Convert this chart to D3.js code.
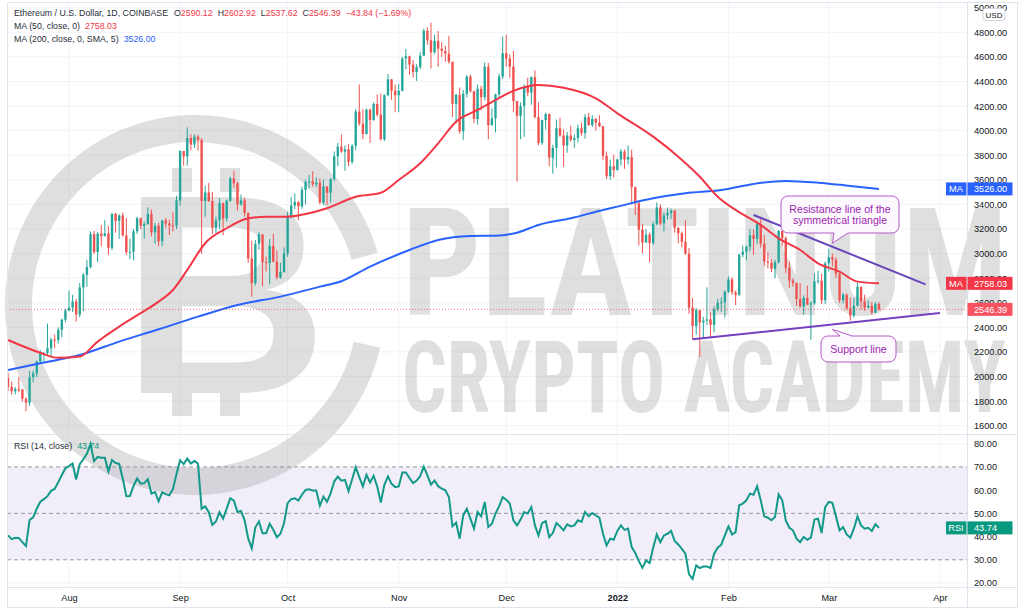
<!DOCTYPE html>
<html>
<head>
<meta charset="utf-8">
<script src="https://cdn.jsdelivr.net/npm/d3@7"></script>
<style>
  body { margin: 0; background: #fff; }
  svg { display: block; }
</style>
</head>
<body>
<svg id="chart" width="1024" height="610"></svg>
<script>
// ETH/USD daily candles, 2021-07-15 .. 2022-03-15 (open = previous close)
const startDay = "2021-07-15"
const firstOpen = 1990

const closes = [
  1916,1880,1897,1895,1820,1787,1994,2026,2123,2188,2190,2230,2300,2298,2380,2462,2536,
  2561,2610,2505,2725,2827,2890,3158,3013,3163,3142,3164,3047,3322,3266,3310,3147,3011,3015,3181,3287,3225,3240,3322,3173,3226,3100,3270,3245,3228,3227,3433,
  3834,3790,3940,3887,3951,3924,3428,3497,3427,3211,3270,3410,3285,3430,3611,3572,3400,3433,3330,2960,2760,3080,3155,2930,2925,3063,2934,2805,2850,3001,
  3308,3391,3420,3384,3518,3582,3587,3563,3577,3415,3545,3495,3605,3792,3869,3830,3848,3746,3877,4155,4057,3972,4170,4086,4217,4130,3930,4288,4417,4325,4288,
  4324,4587,4605,4537,4477,4518,4610,4812,4735,4637,4730,4667,4648,4626,4560,4218,4290,3995,4300,4440,4320,4095,4340,4273,4520,4045,4100,4295,4440,4630,
  4587,4520,4240,4120,4200,4355,4310,4435,4110,3900,4085,4135,3780,3860,4020,3960,3880,3960,3925,3940,4020,3980,4110,4045,4095,4065,4035,3795,3630,3710,3680,
  3765,3830,3765,3785,3540,3410,3195,3090,3155,3085,3240,3375,3245,3310,3330,3350,3210,3165,3095,3000,2560,2410,2540,2440,2455,2465,2420,2548,2600,2605,2690,
  2790,2685,2665,2990,3015,3055,3150,3120,3240,3080,2935,2925,2875,2930,3185,3125,2885,2780,2760,2630,2570,2640,2585,2595,2775,2780,2620,2920,
  2970,2950,2835,2620,2665,2555,2495,2575,2730,2610,2560,2575,2520,2590.23,2546.39
]
const highs = [
  2032,1960,1915,1995,1897,1830,2045,2050,2130,2215,2200,2430,2315,2342,2400,2470,2550,
  2700,2665,2630,2760,2840,2950,3180,3185,3175,3230,3275,3225,3330,3330,3320,3335,3290,3120,3200,3300,3295,3260,3375,3360,3250,3250,3275,3290,3275,3335,3470,
  3840,3835,4027,3970,3970,3965,3940,3550,3575,3500,3300,3450,3415,3440,3625,3675,3585,3480,3455,3335,3105,3110,3175,3160,2975,3120,3160,3025,2925,3050,
  3340,3460,3490,3425,3545,3600,3640,3670,3620,3610,3600,3550,3615,3830,3900,3970,3880,3890,3890,4175,4375,4175,4180,4180,4230,4295,4300,4295,4460,4420,4375,
  4380,4600,4665,4610,4575,4540,4640,4830,4840,4878,4780,4810,4720,4690,4770,4560,4300,4350,4330,4450,4455,4325,4375,4365,4555,4550,4180,4300,4465,4765,
  4780,4620,4650,4240,4230,4375,4430,4440,4490,4230,4090,4145,4140,3885,4090,4105,4010,3990,4040,3970,4050,4065,4135,4145,4125,4105,4125,4040,3830,3765,3805,
  3770,3850,3845,3880,3845,3545,3420,3240,3200,3170,3260,3415,3400,3335,3375,3365,3355,3215,3180,3270,3045,2640,2555,2540,2485,2725,2520,2570,2630,2645,2700,
  2815,2810,2700,3000,3065,3065,3200,3195,3260,3280,3150,3010,2955,2950,3190,3175,3140,2935,2800,2765,2760,2660,2740,2610,2840,2860,2835,2935,
  3040,3000,2970,2850,2680,2675,2640,2640,2760,2730,2665,2620,2605,2605,2602.92
]
const lows = [
  1883,1853,1853,1873,1796,1718,1760,1953,1995,2112,2115,2175,2155,2230,2270,2320,2440,
  2530,2525,2445,2483,2530,2730,2880,2995,2930,3060,3140,2990,3030,3170,3120,3140,2990,2955,2945,3160,3200,3120,3235,3140,3080,3060,3060,3210,3150,3180,3200,
  3390,3715,3715,3840,3860,3840,3000,3300,3420,3160,3170,3200,3150,3260,3420,3535,3350,3390,3300,2925,2650,2740,3030,2735,2855,2750,2930,2790,2795,2845,
  2975,3285,3360,3270,3365,3400,3530,3545,3540,3400,3395,3395,3415,3590,3710,3820,3675,3710,3730,3840,4040,3930,3970,3900,4080,4115,3920,3915,4280,4250,4150,
  4150,4320,4500,4455,4430,4405,4500,4610,4700,4505,4625,4520,4600,4560,4545,4110,4060,3975,3925,4270,4310,4060,4050,4165,4245,3930,4040,3985,4270,4420,
  4520,4430,4150,3585,3930,3950,4280,4210,4100,3880,3885,4010,3710,3650,3700,3950,3705,3820,3910,3860,3905,3960,3935,4040,4030,4000,4030,3760,3605,3600,3620,
  3675,3715,3690,3725,3400,3315,3065,3000,3090,2930,3070,3230,3230,3180,3275,3280,3170,3085,3050,2990,2510,2300,2340,2159,2310,2420,2310,2360,2530,2525,2480,
  2680,2665,2580,2655,2970,2945,3020,2990,3080,3050,2900,2880,2850,2800,2920,3060,2840,2720,2730,2575,2560,2500,2580,2300,2585,2755,2590,2590,
  2855,2895,2800,2600,2595,2545,2455,2480,2570,2545,2535,2555,2505,2515,2537.62
]
// RSI (14, close), one value per candle
const rsi = [
  40.5,38.9,39.5,39.4,37.6,35.9,47.1,48.3,52,55,56.1,57.4,59.7,60.5,63.4,66.5,69.4,
  70.4,71.5,64.6,71.2,73.3,75.6,79.8,72.5,74.3,74,74,68,73,71.7,71.3,65,57.4,57.5,61.8,65,62.8,63,64.7,58.5,59.2,55.2,59,58.3,57.8,60.5,67,
  72.9,71.2,73.6,71.4,72.6,71.4,52,53,50.5,45,46.5,50.5,47.7,52,56.5,55.5,50.6,51,47,39.2,34.9,44,46.5,41.4,41.4,45.5,42.9,39.7,41.2,45.8,
  54.4,56.1,56.5,55.5,58,60.1,60.4,59.8,59.8,53.3,57.2,55,58.6,63.7,65.8,64.1,64.4,59.6,64.7,69.9,65.6,61.6,66.6,63.3,66.2,61.6,54.7,62.3,65.9,62.7,61.3,
  61.6,67.6,67.6,65.2,63,64.1,66.1,70.1,66.4,62.4,64.2,61.7,60.6,59.9,57,44.4,46,39.1,49.1,52,47.7,43.4,50.6,48.7,54.9,44.1,45.5,49.9,53,57,
  55.9,54.2,47,44.8,47.3,50.6,49.9,52.7,44.8,40.5,45.8,46.7,39.8,41.5,45.8,44.4,42.7,45.3,44.4,44.8,47,46.3,50.6,48.7,50.1,49.1,48.1,41.2,36.2,39.1,38.6,
  42.4,44.8,42.9,43.4,35.5,32.9,29.4,26.5,29.7,28.6,35.2,40.9,37.6,40.5,41.2,42.4,38.1,36.6,34.7,32.6,23.7,21.8,27.6,26.4,27.1,27.1,26.5,32.6,35.2,36.5,40.5,
  44.4,40.9,41.9,53.5,54.2,55.6,58.5,58,61.7,55.6,48.7,48.1,47,48.4,58.2,55.6,47,43.8,42.7,39.1,37.6,39.8,38.6,39.5,47.3,47.7,41.5,52.7,
  54.9,54.5,48.7,42.7,44.1,40.9,39.5,43.4,48.7,44.8,43.4,43.8,42.4,45.3,43.74
]

// moving averages
const ma50Dates = ["2021-07-15","2021-07-24","2021-07-29","2021-08-04","2021-08-09","2021-08-15","2021-08-21","2021-08-26","2021-08-30","2021-09-03","2021-09-08","2021-09-14","2021-09-20","2021-09-25","2021-10-01","2021-10-06","2021-10-12","2021-10-20","2021-10-27","2021-11-01","2021-11-07","2021-11-12","2021-11-17","2021-11-23","2021-11-28","2021-12-03","2021-12-10","2021-12-17","2021-12-26","2022-01-01","2022-01-11","2022-01-18","2022-01-24","2022-01-29","2022-02-03","2022-02-10","2022-02-15","2022-02-21","2022-02-26","2022-03-04","2022-03-09","2022-03-15"]
const ma50Values = [2297,2193,2152,2162,2284,2406,2515,2609,2704,2867,3084,3206,3287,3300,3300,3322,3369,3463,3495,3599,3735,3897,4073,4168,4249,4323,4371,4349,4263,4141,3951,3788,3625,3463,3355,3233,3124,3029,2921,2853,2772,2758.03]
const ma200Dates = ["2021-07-15","2021-07-24","2021-08-04","2021-08-15","2021-08-26","2021-09-06","2021-09-17","2021-09-29","2021-10-10","2021-10-16","2021-10-24","2021-11-04","2021-11-12","2021-11-21","2021-11-28","2021-12-04","2021-12-10","2021-12-19","2021-12-28","2022-01-01","2022-01-11","2022-01-20","2022-01-30","2022-02-08","2022-02-17","2022-02-26","2022-03-07","2022-03-15"]
const ma200Values = [2053,2108,2175,2284,2384,2487,2582,2650,2731,2775,2894,3029,3111,3143,3146,3170,3233,3287,3355,3382,3450,3491,3517,3566,3591,3577,3550,3526]

// drawn trend lines (date, price)
const resistanceDates = ["2022-02-08","2022-03-28"]
const resistancePrices = [3314, 2750]
const supportDates = ["2022-01-22","2022-04-01"]
const supportPrices = [2303, 2517]

const priceTicks = d3.range(1600, 5001, 200)
const rsiTicks = [20, 30, 40, 50, 60, 70, 80]
const rsiGrid = [20, 40, 60, 80]
const rsiLevels = [70, 50, 30]

const FONT = '"Liberation Sans", Arial, sans-serif'
const UP = "#26a69a", DOWN = "#ef5350"
const L = 7, R = 967, FR = 1017
const mainTop = 2, mainBottom = 434, rsiBottom = 587, bottom = 607

const parse = d3.utcParse("%Y-%m-%d")
const day0 = parse(startDay)
const candles = closes.map((c, i) => ({
  date: d3.utcDay.offset(day0, i),
  open: i ? closes[i - 1] : firstOpen,
  high: highs[i], low: lows[i], close: c, rsi: rsi[i]
}))

const x = d3.scaleUtc().domain([day0, parse("2022-04-01")]).range([8.07, 939.9])
const y = d3.scaleLinear().domain([1600, 5000]).range([425.7, 7.7])
const yr = d3.scaleLinear().domain([20, 80]).range([583, 443.7])

const svg = d3.select("#chart").attr("font-family", FONT)
const defs = svg.append("defs")
defs.append("clipPath").attr("id", "clipMain").append("rect")
  .attr("x", L).attr("y", mainTop).attr("width", R - L).attr("height", mainBottom - mainTop)
defs.append("clipPath").attr("id", "clipRsi").append("rect")
  .attr("x", L).attr("y", mainBottom).attr("width", R - L).attr("height", rsiBottom - mainBottom)

svg.append("rect").attr("width", 1024).attr("height", 610).attr("fill", "#fff")

// RSI band
svg.append("rect").attr("x", L).attr("width", R - L)
  .attr("y", yr(70)).attr("height", yr(30) - yr(70)).attr("fill", "rgba(126,87,194,0.1)")

// grid
const grid = svg.append("g").attr("stroke", "#f0f3fa").attr("stroke-width", 1)
grid.selectAll(".gy").data(priceTicks).join("line").attr("class", "gy")
  .attr("x1", L).attr("x2", R).attr("y1", d => y(d)).attr("y2", d => y(d))
grid.selectAll(".gr").data(rsiGrid).join("line").attr("class", "gr")
  .attr("x1", L).attr("x2", R).attr("y1", d => yr(d)).attr("y2", d => yr(d))
grid.selectAll(".gx").data(x.ticks(d3.utcMonth.every(1))).join("line").attr("class", "gx")
  .attr("x1", d => x(d)).attr("x2", d => x(d)).attr("y1", mainTop).attr("y2", rsiBottom)

svg.append("g").selectAll("line").data(rsiLevels).join("line")
  .attr("x1", L).attr("x2", R).attr("y1", d => yr(d)).attr("y2", d => yr(d))
  .attr("stroke", "#9598a1").attr("stroke-dasharray", "4,3")

// watermark
const wm = svg.append("g").attr("fill", "#8c8c8c").attr("opacity", 0.27)
const deg = Math.PI / 180
wm.append("path").attr("transform", "translate(195,305)")
  .attr("d", d3.arc()({ innerRadius: 163, outerRadius: 190,
    startAngle: Math.PI / 2 + 13 * deg, endAngle: Math.PI / 2 - 16 * deg + 2 * Math.PI }))
wm.append("text").attr("x", 122).attr("y", 393)
  .attr("font-family", FONT).attr("font-weight", "bold").attr("font-size", 285).text("B")
wm.selectAll(".stub").data([[172, 168], [220, 168], [172, 392], [220, 392]]).join("rect").attr("class", "stub")
  .attr("x", d => d[0]).attr("y", d => d[1]).attr("width", 20).attr("height", 24)
wm.append("text").attr("x", 402).attr("y", 315)
  .attr("font-family", '"Liberation Sans Narrow", "Roboto Condensed", "Liberation Sans", sans-serif')
  .attr("font-weight", "bold").attr("font-size", 150)
  .attr("textLength", 606).attr("lengthAdjust", "spacingAndGlyphs").text("PLATINUM")
wm.append("text").attr("x", 402).attr("y", 412)
  .attr("font-family", '"Liberation Sans Narrow", "Roboto Condensed", "Liberation Sans", sans-serif')
  .attr("font-weight", "bold").attr("font-size", 100)
  .attr("textLength", 604).attr("lengthAdjust", "spacingAndGlyphs").text("CRYPTO ACADEMY")

// candles
const gMain = svg.append("g").attr("clip-path", "url(#clipMain)")
const cg = gMain.selectAll(".candle").data(candles).join("g").attr("class", "candle")
cg.append("line")
  .attr("x1", d => x(d.date)).attr("x2", d => x(d.date))
  .attr("y1", d => y(d.high)).attr("y2", d => y(d.low))
  .attr("stroke", d => d.close >= d.open ? UP : DOWN).attr("stroke-width", 1)
cg.append("rect")
  .attr("x", d => x(d.date) - 1.2).attr("width", 2.4)
  .attr("y", d => y(Math.max(d.open, d.close)))
  .attr("height", d => Math.max(1, Math.abs(y(d.open) - y(d.close))))
  .attr("fill", d => d.close >= d.open ? UP : DOWN)

const maLine = d3.line().x(d => x(d[0])).y(d => y(d[1])).curve(d3.curveMonotoneX)
gMain.append("path").datum(ma200Dates.map((d, i) => [parse(d), ma200Values[i]]))
  .attr("d", maLine).attr("fill", "none").attr("stroke", "#2962ff").attr("stroke-width", 2)
gMain.append("path").datum(ma50Dates.map((d, i) => [parse(d), ma50Values[i]]))
  .attr("d", maLine).attr("fill", "none").attr("stroke", "#f23645").attr("stroke-width", 2)

const last = candles[candles.length - 1]
gMain.append("line").attr("x1", L).attr("x2", R).attr("y1", y(last.close)).attr("y2", y(last.close))
  .attr("stroke", DOWN).attr("stroke-dasharray", "1,2").attr("opacity", 0.8)

// trend lines
const tl = d3.line().x(d => x(d[0])).y(d => y(d[1]))
gMain.append("path").datum(resistanceDates.map((d, i) => [parse(d), resistancePrices[i]]))
  .attr("d", tl).attr("stroke", "#6845b8").attr("stroke-width", 2).attr("fill", "none")
gMain.append("path").datum(supportDates.map((d, i) => [parse(d), supportPrices[i]]))
  .attr("d", tl).attr("stroke", "#7440c0").attr("stroke-width", 2).attr("fill", "none")

// callouts
function calloutPath(bx, by, bw, bh, r, side, a, b, tx, ty) {
  let p = `M${bx + r},${by}`
  if (side === "top") p += `L${a},${by}L${tx},${ty}L${b},${by}`
  p += `L${bx + bw - r},${by}A${r},${r} 0 0 1 ${bx + bw},${by + r}`
  p += `L${bx + bw},${by + bh - r}A${r},${r} 0 0 1 ${bx + bw - r},${by + bh}`
  if (side === "bottom") p += `L${b},${by + bh}L${tx},${ty}L${a},${by + bh}`
  p += `L${bx + r},${by + bh}A${r},${r} 0 0 1 ${bx},${by + bh - r}`
  p += `L${bx},${by + r}A${r},${r} 0 0 1 ${bx + r},${by}Z`
  return p
}
const tipDate = parse("2022-03-02")
const callG = svg.append("g")
callG.append("path")
  .attr("d", calloutPath(781, 196, 118, 37, 7, "bottom", 834, 848, x(tipDate), y(3084)))
  .attr("fill", "#fdf8fe").attr("stroke", "#b35bc8").attr("stroke-width", 1)
callG.append("text").attr("x", 840).attr("y", 212.5).attr("text-anchor", "middle")
  .attr("font-size", 10.6).attr("fill", "#9c27b0")
  .selectAll("tspan").data(["Resistance line of the", "symmetrical triangle"]).join("tspan")
  .attr("x", 840).attr("dy", (d, i) => i ? 11.5 : 0).text(d => d)
callG.append("path")
  .attr("d", calloutPath(821, 336, 75, 26, 7, "top", 840, 852, x(tipDate), y(2384)))
  .attr("fill", "#fdf8fe").attr("stroke", "#b35bc8").attr("stroke-width", 1)
callG.append("text").attr("x", 858.5).attr("y", 352.5).attr("text-anchor", "middle")
  .attr("font-size", 10.6).attr("fill", "#9c27b0").text("Support line")

// RSI line
svg.append("g").attr("clip-path", "url(#clipRsi)").append("path").datum(candles)
  .attr("d", d3.line().x(d => x(d.date)).y(d => yr(d.rsi)))
  .attr("fill", "none").attr("stroke", "#12998a").attr("stroke-width", 2)

// frame and separators
const frame = svg.append("g").attr("stroke", "#e0e3eb").attr("fill", "none")
frame.append("rect").attr("x", L + 0.5).attr("y", mainTop + 0.5).attr("width", FR - L).attr("height", bottom - mainTop)
frame.append("line").attr("x1", L).attr("x2", FR).attr("y1", mainBottom + 0.5).attr("y2", mainBottom + 0.5)
frame.append("line").attr("x1", L).attr("x2", FR).attr("y1", rsiBottom + 0.5).attr("y2", rsiBottom + 0.5)
frame.append("line").attr("x1", R + 0.5).attr("x2", R + 0.5).attr("y1", mainTop).attr("y2", bottom)

// axes
function styleAxis(g) {
  g.select(".domain").remove()
  g.attr("font-family", FONT).attr("font-size", 9.2)
  g.selectAll("text").attr("fill", "#131722")
}
svg.append("g").attr("transform", `translate(${R},0)`)
  .call(d3.axisRight(y).tickValues(priceTicks).tickFormat(d3.format(".2f")).tickSize(0).tickPadding(7))
  .call(styleAxis)
svg.append("g").attr("transform", `translate(${R},0)`)
  .call(d3.axisRight(yr).tickValues(rsiTicks).tickFormat(d3.format(".2f")).tickSize(0).tickPadding(7))
  .call(styleAxis)
svg.append("g").attr("transform", `translate(0,${rsiBottom})`)
  .call(d3.axisBottom(x).ticks(d3.utcMonth.every(1))
    .tickFormat(d => d.getUTCMonth() === 0 ? d3.utcFormat("%Y")(d) : d3.utcFormat("%b")(d))
    .tickSize(0).tickPadding(7))
  .call(styleAxis)
  .call(g => g.selectAll(".tick text").attr("font-weight", d => d.getUTCMonth() === 0 ? "bold" : null))

// USD badge
svg.append("rect").attr("x", 983).attr("y", 8.5).attr("width", 22).attr("height", 12).attr("rx", 2.5)
  .attr("fill", "#fff").attr("stroke", "#d1d4dc")
svg.append("text").attr("x", 994).attr("y", 17.5).attr("text-anchor", "middle")
  .attr("font-size", 8).attr("fill", "#131722").text("USD")

// price labels on the axis
function axisBadge(value, yy, color, tag) {
  const g = svg.append("g").attr("font-size", 9.2).attr("fill", "#fff")
  if (tag) {
    g.append("rect").attr("x", 946).attr("y", yy - 6.5).attr("width", 20.5).attr("height", 13).attr("fill", color)
    g.append("text").attr("x", 956).attr("y", yy + 3.2).attr("text-anchor", "middle").text(tag)
  }
  g.append("rect").attr("x", 967.5).attr("y", yy - 6.5).attr("width", 45).attr("height", 13).attr("fill", color)
  g.append("text").attr("x", 974).attr("y", yy + 3.2).text(d3.format(".2f")(value))
}
axisBadge(ma200Values[ma200Values.length - 1], y(ma200Values[ma200Values.length - 1]), "#2962ff", "MA")
axisBadge(ma50Values[ma50Values.length - 1], y(ma50Values[ma50Values.length - 1]), "#f23645", "MA")
axisBadge(last.close, y(last.close), "#f7525f", null)
axisBadge(last.rsi, yr(last.rsi), "#089981", "RSI")

// legends
const lg = svg.append("g").attr("font-size", 8.8).attr("fill", "#2a2e39")
const t1 = lg.append("text").attr("x", 14).attr("y", 16)
t1.append("tspan").text("Ethereum / U.S. Dollar, 1D, COINBASE")
const ohlc = [["O", "2590.12"], ["H", "2602.92"], ["L", "2537.62"], ["C", "2546.39"]]
ohlc.forEach(([k, v], i) => {
  t1.append("tspan").attr("dx", i ? 5 : 6).text(k)
  t1.append("tspan").attr("fill", "#f23645").text(v)
})
t1.append("tspan").attr("dx", 5).attr("fill", "#f23645").text("\u221243.84 (\u22121.69%)")

const t2 = lg.append("text").attr("x", 14).attr("y", 29)
t2.append("tspan").text("MA (50, close, 0)")
t2.append("tspan").attr("dx", 5).attr("fill", "#f23645").text(d3.format(".2f")(ma50Values[ma50Values.length - 1]))
const t3 = lg.append("text").attr("x", 14).attr("y", 42)
t3.append("tspan").text("MA (200, close, 0, SMA, 5)")
t3.append("tspan").attr("dx", 5).attr("fill", "#2962ff").text(d3.format(".2f")(ma200Values[ma200Values.length - 1]))
const t4 = lg.append("text").attr("x", 14).attr("y", 449)
t4.append("tspan").text("RSI (14, close)")
t4.append("tspan").attr("dx", 5).attr("fill", "#089981").text(d3.format(".2f")(last.rsi))
</script>
</body>
</html>
